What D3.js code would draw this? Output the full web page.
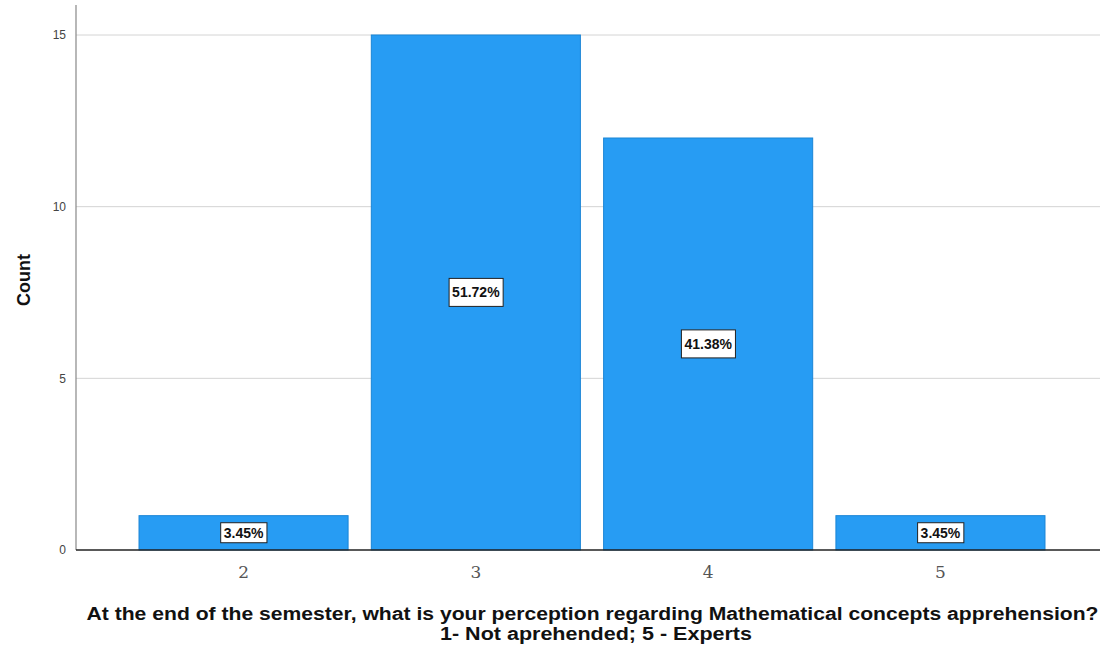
<!DOCTYPE html>
<html><head><meta charset="utf-8">
<script src="https://cdn.jsdelivr.net/npm/d3@7"></script>
<style>body{margin:0;background:#fff}svg{display:block}</style>
</head><body><svg id="c" width="1100" height="648"></svg>
<script>
const categories = ["2","3","4","5"];
const counts = [1, 15, 12, 1];
const pctLabels = ["3.45%","51.72%","41.38%","3.45%"];
const yTicks = [0, 5, 10, 15];
const xTitle1 = "At the end of the semester, what is your perception regarding Mathematical concepts apprehension?";
const xTitle2 = "1- Not aprehended; 5 - Experts";
const yTitle = "Count";

const svg = d3.select("#c");
const plotLeft = 76, plotRight = 1100, plotTop = 5, plotBottom = 550;
const x = d3.scaleBand().domain(categories).range([127.4, 1056.6]).paddingInner(0.1).paddingOuter(0.05);
const y = d3.scaleLinear().domain([0, 15]).range([plotBottom, 35]);

// gridlines
svg.append("g").selectAll("line").data(yTicks.filter(d=>d>0)).join("line")
  .attr("x1", plotLeft).attr("x2", plotRight)
  .attr("y1", d=>y(d)).attr("y2", d=>y(d))
  .attr("stroke", "#d4d4d4").attr("stroke-width", 1);

// y axis
const yAxis = svg.append("g").attr("transform", `translate(${plotLeft},0)`)
  .call(d3.axisLeft(y).tickValues(yTicks).tickSize(0).tickPadding(10));
yAxis.select(".domain").remove();
yAxis.selectAll("text").attr("font-family","Liberation Sans, Arial, sans-serif").attr("font-size",12).attr("fill","#444");
svg.append("line").attr("x1",plotLeft).attr("x2",plotLeft).attr("y1",plotTop).attr("y2",plotBottom)
  .attr("stroke","#888").attr("stroke-width",1.2);

// bars
svg.append("g").selectAll("rect").data(counts).join("rect")
  .attr("x",(d,i)=>x(categories[i])).attr("width",x.bandwidth())
  .attr("y",d=>y(d)).attr("height",d=>plotBottom-y(d))
  .attr("fill","#279cf3").attr("stroke","#1a85d6").attr("stroke-width",1);

// x axis
const xAxis = svg.append("g").attr("transform",`translate(0,${plotBottom})`)
  .call(d3.axisBottom(x).tickSize(0).tickPadding(16));
xAxis.select(".domain").remove();
xAxis.selectAll("text").attr("font-family","DejaVu Serif, serif").attr("font-size",17).attr("fill","#555");
svg.append("line").attr("x1",plotLeft).attr("x2",plotRight).attr("y1",plotBottom).attr("y2",plotBottom)
  .attr("stroke","#222").attr("stroke-width",1.3);

// percentage labels
const lg = svg.append("g").selectAll("g").data(counts).join("g")
  .attr("transform",(d,i)=>`translate(${x(categories[i])+x.bandwidth()/2},${(y(d)+plotBottom)/2})`);
lg.append("text").text((d,i)=>pctLabels[i])
  .attr("text-anchor","middle").attr("dy","0.35em")
  .attr("font-family","Liberation Sans, Arial, sans-serif").attr("font-weight","bold").attr("font-size",14).attr("fill","#111");
lg.each(function(d){
  const g = d3.select(this);
  const bb = g.select("text").node().getBBox();
  const padY = d > 1 ? 6 : 2;
  g.insert("rect","text").attr("x",bb.x-3).attr("y",bb.y-padY).attr("width",bb.width+6).attr("height",bb.height+2*padY)
    .attr("fill","#fff").attr("stroke","#222").attr("stroke-width",1);
});

// titles
svg.append("text").text(yTitle).attr("transform","translate(30,280) rotate(-90)")
  .attr("text-anchor","middle").attr("font-family","Liberation Sans, Arial, sans-serif")
  .attr("font-weight","bold").attr("font-size",18).attr("fill","#111");
svg.append("text").text(xTitle1).attr("x",592.5).attr("y",620).attr("text-anchor","middle")
  .attr("textLength",1012).attr("lengthAdjust","spacingAndGlyphs")
  .attr("font-family","Liberation Sans, Arial, sans-serif").attr("font-weight","bold").attr("font-size",18).attr("fill","#111");
svg.append("text").text(xTitle2).attr("x",596).attr("y",640).attr("text-anchor","middle")
  .attr("textLength",312).attr("lengthAdjust","spacingAndGlyphs")
  .attr("font-family","Liberation Sans, Arial, sans-serif").attr("font-weight","bold").attr("font-size",18).attr("fill","#111");
</script></body></html>
